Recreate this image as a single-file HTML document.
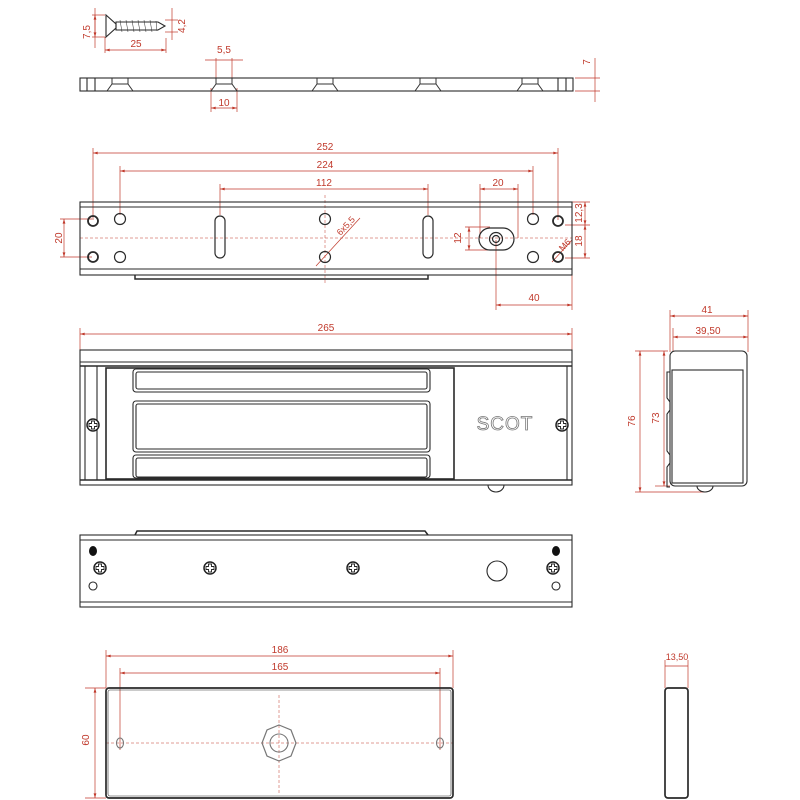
<!DOCTYPE html>
<html><head><meta charset="utf-8"><style>html,body{margin:0;padding:0;background:#fff}svg{display:block}</style></head>
<body>
<svg width="800" height="800" viewBox="0 0 800 800" xmlns="http://www.w3.org/2000/svg" font-family="Liberation Sans, sans-serif">
<defs>
<marker id="a" viewBox="0 0 10 6" refX="10" refY="3" markerWidth="8" markerHeight="4" orient="auto-start-reverse"><path d="M0,0L10,3L0,6z" fill="#c0392b"/></marker>
<g id="scr"><circle r="6" fill="#fff" stroke="#222" stroke-width="1.5"/><path d="M-1.5,-4h3v2.5h2.5v3h-2.5v2.5h-3v-2.5h-2.5v-3h2.5z" fill="none" stroke="#222" stroke-width="0.9"/></g>
<g id="cs"><path d="M-8,0V6L-13,13M8,0V6L13,13M-8,6H8" fill="none" stroke="#333" stroke-width="1"/></g>
</defs>
<g stroke="#c0392b" stroke-width="0.7" fill="none">
<line x1="95" y1="8" x2="95" y2="48"/><line x1="92" y1="15" x2="105" y2="15"/><line x1="92" y1="37" x2="105" y2="37"/>
<line x1="95" y1="15" x2="95" y2="37" marker-start="url(#a)" marker-end="url(#a)"/>
<line x1="172" y1="8" x2="172" y2="40"/><line x1="165" y1="20" x2="178" y2="20"/><line x1="165" y1="32" x2="178" y2="32"/>
<line x1="105" y1="37" x2="105" y2="53"/><line x1="166" y1="38" x2="166" y2="53"/>
<line x1="105" y1="50" x2="166" y2="50" marker-start="url(#a)" marker-end="url(#a)"/>
<line x1="216" y1="58" x2="216" y2="80"/><line x1="232" y1="58" x2="232" y2="80"/>
<line x1="205" y1="60" x2="243" y2="60"/>
<line x1="211" y1="88" x2="211" y2="112"/><line x1="237" y1="88" x2="237" y2="112"/>
<line x1="211" y1="108" x2="237" y2="108" marker-start="url(#a)" marker-end="url(#a)"/>
<line x1="575" y1="78" x2="600" y2="78"/><line x1="575" y1="91" x2="600" y2="91"/><line x1="595" y1="58" x2="595" y2="102"/>
<line x1="93" y1="148" x2="93" y2="220"/><line x1="558" y1="148" x2="558" y2="220"/>
<line x1="93" y1="153" x2="558" y2="153" marker-start="url(#a)" marker-end="url(#a)"/>
<line x1="120" y1="166" x2="120" y2="215"/><line x1="533" y1="166" x2="533" y2="215"/>
<line x1="120" y1="171" x2="533" y2="171" marker-start="url(#a)" marker-end="url(#a)"/>
<line x1="220" y1="184" x2="220" y2="215"/><line x1="428" y1="184" x2="428" y2="215"/>
<line x1="220" y1="189" x2="428" y2="189" marker-start="url(#a)" marker-end="url(#a)"/>
<line x1="480" y1="184" x2="480" y2="238"/><line x1="518" y1="184" x2="518" y2="238"/>
<line x1="480" y1="189" x2="518" y2="189" marker-start="url(#a)" marker-end="url(#a)"/>
<line x1="60" y1="219" x2="92" y2="219"/><line x1="60" y1="257" x2="92" y2="257"/>
<line x1="64" y1="219" x2="64" y2="257" marker-start="url(#a)" marker-end="url(#a)"/>
<line x1="465" y1="227" x2="490" y2="227"/><line x1="465" y1="250" x2="490" y2="250"/>
<line x1="469" y1="227" x2="469" y2="250" marker-start="url(#a)" marker-end="url(#a)"/>
<line x1="565" y1="202" x2="590" y2="202"/><line x1="565" y1="225" x2="590" y2="225"/><line x1="565" y1="258" x2="590" y2="258"/>
<line x1="585" y1="202" x2="585" y2="225" marker-start="url(#a)" marker-end="url(#a)"/>
<line x1="585" y1="225" x2="585" y2="258" marker-start="url(#a)" marker-end="url(#a)"/>
<line x1="496" y1="240" x2="496" y2="310"/><line x1="572" y1="275" x2="572" y2="310"/>
<line x1="496" y1="305" x2="572" y2="305" marker-start="url(#a)" marker-end="url(#a)"/>
<line x1="316" y1="266" x2="360" y2="218"/>
<line x1="552" y1="262" x2="572" y2="240"/>
<line x1="80" y1="328" x2="80" y2="350"/><line x1="572" y1="328" x2="572" y2="350"/>
<line x1="80" y1="334" x2="572" y2="334" marker-start="url(#a)" marker-end="url(#a)"/>
<line x1="670" y1="310" x2="670" y2="352"/><line x1="748" y1="310" x2="748" y2="352"/><line x1="673" y1="328" x2="673" y2="352"/>
<line x1="670" y1="316" x2="748" y2="316" marker-start="url(#a)" marker-end="url(#a)"/>
<line x1="673" y1="337" x2="748" y2="337" marker-start="url(#a)" marker-end="url(#a)"/>
<line x1="635" y1="351" x2="668" y2="351"/><line x1="635" y1="492" x2="705" y2="492"/><line x1="655" y1="486" x2="670" y2="486"/>
<line x1="640" y1="351" x2="640" y2="492" marker-start="url(#a)" marker-end="url(#a)"/>
<line x1="664" y1="351" x2="664" y2="486" marker-start="url(#a)" marker-end="url(#a)"/>
<line x1="106" y1="650" x2="106" y2="688"/><line x1="453" y1="650" x2="453" y2="688"/>
<line x1="106" y1="656" x2="453" y2="656" marker-start="url(#a)" marker-end="url(#a)"/>
<line x1="120" y1="668" x2="120" y2="750"/><line x1="440" y1="668" x2="440" y2="750"/>
<line x1="120" y1="673" x2="440" y2="673" marker-start="url(#a)" marker-end="url(#a)"/>
<line x1="85" y1="688" x2="106" y2="688"/><line x1="85" y1="798" x2="106" y2="798"/>
<line x1="95" y1="688" x2="95" y2="798" marker-start="url(#a)" marker-end="url(#a)"/>
<line x1="665" y1="660" x2="665" y2="688"/><line x1="688" y1="660" x2="688" y2="688"/>
<line x1="665" y1="666" x2="688" y2="666"/>
</g>
<g stroke="#c0392b" stroke-width="0.5" stroke-dasharray="3,2" fill="none">
<line x1="80" y1="238" x2="572" y2="238"/><line x1="325" y1="195" x2="325" y2="285"/>
<line x1="106" y1="743" x2="453" y2="743"/><line x1="279" y1="695" x2="279" y2="795"/>
</g>
<g fill="#c0392b" font-size="10">
<text x="84" y="26" transform="rotate(-90 90 26)" text-anchor="middle">7,5</text>
<text x="185" y="26" transform="rotate(-90 185 26)" text-anchor="middle">4,2</text>
<text x="136" y="47" text-anchor="middle">25</text>
<text x="224" y="53" text-anchor="middle">5,5</text>
<text x="224" y="106" text-anchor="middle">10</text>
<text x="587" y="65" transform="rotate(-90 587 62)" text-anchor="middle">7</text>
<text x="325" y="150" text-anchor="middle">252</text>
<text x="325" y="168" text-anchor="middle">224</text>
<text x="324" y="186" text-anchor="middle">112</text>
<text x="498" y="186" text-anchor="middle">20</text>
<text x="62" y="238" transform="rotate(-90 62 238)" text-anchor="middle">20</text>
<text x="461" y="238" transform="rotate(-90 461 238)" text-anchor="middle">12</text>
<text x="582" y="213" transform="rotate(-90 582 213)" text-anchor="middle">12,3</text>
<text x="582" y="241" transform="rotate(-90 582 241)" text-anchor="middle">18</text>
<text x="534" y="301" text-anchor="middle">40</text>
<text x="348" y="228" transform="rotate(-47 348 228)" text-anchor="middle" font-size="9">6x5,5</text>
<text x="567" y="247" transform="rotate(-47 567 247)" text-anchor="middle" font-size="9">M6</text>
<text x="326" y="331" text-anchor="middle">265</text>
<text x="707" y="313" text-anchor="middle">41</text>
<text x="708" y="334" text-anchor="middle">39,50</text>
<text x="635" y="421" transform="rotate(-90 635 421)" text-anchor="middle">76</text>
<text x="659" y="418" transform="rotate(-90 659 418)" text-anchor="middle">73</text>
<text x="280" y="653" text-anchor="middle">186</text>
<text x="280" y="670" text-anchor="middle">165</text>
<text x="92" y="743" transform="rotate(-90 89 743)" text-anchor="middle">60</text>
<text x="677" y="660" text-anchor="middle" font-size="9">13,50</text>
</g>
<g stroke="#2a2a2a" stroke-width="1.1" fill="none">
<path d="M106,15L106,37L116,28L116,24Z"/>
<path d="M116,22L158,22L165,26L158,30L116,30Z"/>
<path d="M120,20l2,12M126,20l2,12M132,20l2,12M138,20l2,12M144,20l2,12M150,20l2,12M156,21l1,10" stroke-width="0.5"/>
<rect x="80" y="78" width="493" height="13"/>
<line x1="87" y1="78" x2="87" y2="91"/><line x1="95" y1="78" x2="95" y2="91"/>
<line x1="558" y1="78" x2="558" y2="91"/><line x1="566" y1="78" x2="566" y2="91"/>
<use href="#cs" x="120" y="78"/><use href="#cs" x="224" y="78"/><use href="#cs" x="325" y="78"/><use href="#cs" x="428" y="78"/><use href="#cs" x="530" y="78"/>
<rect x="80" y="202" width="492" height="73"/>
<line x1="80" y1="207" x2="572" y2="207"/><line x1="80" y1="269" x2="572" y2="269"/>
<path d="M135,275V279H428V275" stroke-width="1.5"/>
<g stroke-width="1.8"><circle cx="93" cy="221" r="5"/><circle cx="93" cy="257" r="5"/><circle cx="558" cy="221" r="5"/><circle cx="558" cy="257" r="5"/></g>
<g stroke-width="1.2"><circle cx="120" cy="219" r="5.5"/><circle cx="120" cy="257" r="5.5"/><circle cx="533" cy="219" r="5.5"/><circle cx="533" cy="257" r="5.5"/><circle cx="325" cy="219" r="5.5"/><circle cx="325" cy="257" r="5.5"/>
<rect x="215" y="216" width="10" height="42" rx="5"/><rect x="423" y="216" width="10" height="42" rx="5"/>
<rect x="479" y="228" width="35" height="22" rx="11"/><circle cx="496" cy="239" r="6.5"/><circle cx="496" cy="239" r="3.5"/></g>
<rect x="80" y="350" width="492" height="135"/>
<line x1="80" y1="362" x2="572" y2="362"/><line x1="80" y1="366" x2="572" y2="366" stroke-width="1.5"/>
<line x1="80" y1="480" x2="572" y2="480" stroke-width="1.5"/>
<line x1="85" y1="366" x2="85" y2="480"/><line x1="97" y1="366" x2="97" y2="480"/><line x1="567" y1="366" x2="567" y2="480"/>
<rect x="106" y="368" width="348" height="111" stroke-width="1.6"/>
<rect x="133" y="369" width="297" height="23" rx="3"/><rect x="136" y="372" width="291" height="17" rx="2"/>
<rect x="133" y="401" width="297" height="51" rx="3"/><rect x="136" y="404" width="291" height="45" rx="2"/>
<rect x="133" y="455" width="297" height="23" rx="3"/><rect x="136" y="458" width="291" height="19" rx="2"/>
<path d="M488,485a8,7 0 0 0 16,0"/>
<rect x="670" y="351" width="77" height="135" rx="5"/>
<rect x="672" y="370" width="71" height="113"/>
<path d="M670,372h-3v26l3,4v8l-3,4v37l3,4v8l-3,4v20h3"/>
<path d="M697,486a8,6 0 0 0 16,0"/>
<rect x="80" y="535" width="492" height="72"/>
<line x1="80" y1="540" x2="572" y2="540"/><line x1="80" y1="602" x2="572" y2="602"/>
<path d="M135,535L137,531H425L428,535" stroke-width="1.5"/>
<circle cx="497" cy="571" r="10"/>
<circle cx="93" cy="586" r="4"/><circle cx="556" cy="586" r="4"/>
<rect x="106" y="688" width="347" height="110" rx="3" stroke-width="1.7"/>
<rect x="108" y="690" width="343" height="106" rx="2" stroke-width="0.6"/>
<ellipse cx="120" cy="743" rx="3.5" ry="5" stroke="#777"/><ellipse cx="440" cy="743" rx="3.5" ry="5" stroke="#777"/>
<polygon points="279,725 291,730 296,743 291,756 279,761 267,756 262,743 267,730" stroke="#777" stroke-width="1.2"/>
<circle cx="279" cy="743" r="9" stroke="#777"/>
<rect x="665" y="688" width="23" height="110" rx="3" stroke-width="1.7"/>
</g>
<g fill="#111"><ellipse cx="93" cy="551" rx="4" ry="5"/><ellipse cx="556" cy="551" rx="4" ry="5"/></g>
<use href="#scr" x="93" y="425"/><use href="#scr" x="562" y="425"/>
<use href="#scr" x="100" y="568"/><use href="#scr" x="210" y="568"/><use href="#scr" x="353" y="568"/><use href="#scr" x="553" y="568"/>
<text x="505" y="430" font-size="19" fill="#fff" stroke="#777" stroke-width="0.8" text-anchor="middle" letter-spacing="1">SCOT</text>
</svg>
</body></html>
